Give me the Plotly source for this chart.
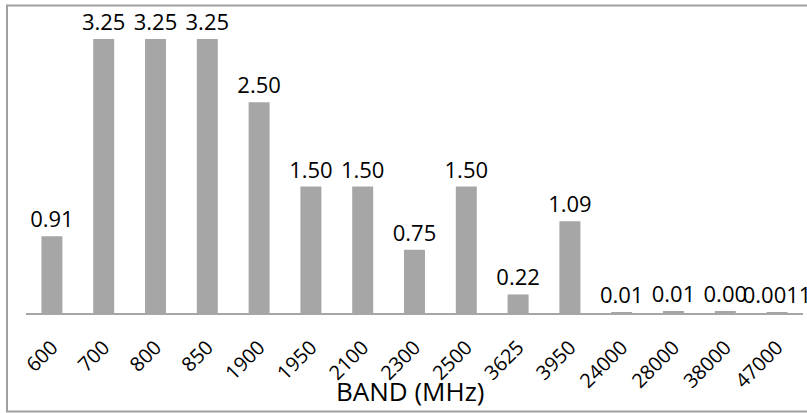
import plotly.graph_objects as go

bands = ["600", "700", "800", "850", "1900", "1950", "2100", "2300", "2500",
         "3625", "3950", "24000", "28000", "38000", "47000"]
values = [0.91, 3.25, 3.25, 3.25, 2.50, 1.50, 1.50, 0.75, 1.50,
          0.22, 1.09, 0.006, 0.012, 0.012, 0.0011]
labels = ["0.91", "3.25", "3.25", "3.25", "2.50", "1.50", "1.50", "0.75", "1.50",
          "0.22", "1.09", "0.01", "0.01", "0.00", "0.0011"]
x_title = "BAND (MHz)"

W, H = 807, 413
ml, mr, mt, mb = 26, 4, 18, 100
pw = W - ml - mr
ph = H - mt - mb

fig = go.Figure()
fig.add_trace(go.Bar(
    x=bands, y=values, text=labels,
    textposition="outside", cliponaxis=False, constraintext="none",
    textfont=dict(family="Open Sans", size=22, color="black"),
    marker=dict(color="#a6a6a6", line=dict(width=0)),
    hoverinfo="x+y",
))

def px_to_paper_x(px):
    return (px - ml) / pw

def px_to_paper_y(py):
    return (H - mb - py) / ph

fig.update_layout(
    width=W, height=H,
    margin=dict(l=ml, r=mr, t=mt, b=mb),
    paper_bgcolor="white", plot_bgcolor="white",
    bargap=0.595,
    showlegend=False,
    font=dict(family="Open Sans", color="black"),
    xaxis=dict(
        type="category",
        showline=True, linecolor="#a6a6a6", linewidth=1.5,
        showgrid=False, ticks="", tickangle=-45,
        tickfont=dict(family="Open Sans", size=20, color="black"),
        ticklabelstandoff=13,
        automargin=False,
    ),
    yaxis=dict(
        range=[0, 3.5], visible=False, showgrid=False, zeroline=False,
    ),
    annotations=[dict(
        text=x_title, xref="paper", yref="paper",
        x=px_to_paper_x(410.5), y=px_to_paper_y(391), xanchor="center", yanchor="middle",
        showarrow=False, font=dict(family="Open Sans", size=26, color="black"),
    )],
    shapes=[dict(
        type="rect", xref="paper", yref="paper",
        x0=px_to_paper_x(7), x1=px_to_paper_x(815),
        y0=px_to_paper_y(411.5), y1=px_to_paper_y(5.5),
        line=dict(color="#a0a0a0", width=2), fillcolor="rgba(0,0,0,0)",
        layer="below",
    )],
)

fig.write_html(
    "out.html",
    config={"displayModeBar": False},
    post_script="document.body.style.margin='0';document.body.style.overflow='hidden';",
)
